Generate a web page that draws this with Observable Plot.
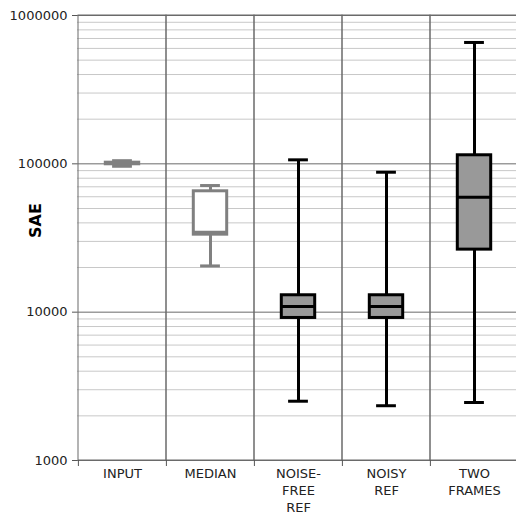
<!DOCTYPE html>
<html>
<head>
<meta charset="utf-8">
<script src="https://cdn.jsdelivr.net/npm/d3@7"></script>
<script src="https://cdn.jsdelivr.net/npm/@observablehq/plot@0.6"></script>
<style>
  html, body { margin: 0; padding: 0; background: #fff; overflow: hidden; }
  svg { display: block; }
</style>
</head>
<body>
<div id="chart"></div>
<script>
// ---- data ----
const categories = ["INPUT", "MEDIAN", "NOISE-FREE REF", "NOISY REF", "TWO FRAMES"];
const tickLabels = ["INPUT", "MEDIAN", "NOISE-\nFREE\nREF", "NOISY\nREF", "TWO\nFRAMES"];
const whiskerLow  = [96300, 20500, 2510, 2340, 2460];
const q1          = [99300, 33300, 9140, 9140, 26400];
const median      = [100500, 34600, 10900, 10900, 59600];
const q3          = [101800, 65300, 13000, 13000, 114200];
const whiskerHigh = [105000, 71400, 106400, 87800, 658000];
const yMajorTicks = [1000, 10000, 100000, 1000000];

// ---- table built from the arrays ----
const rows = categories.map((c, i) => ({
  cat: c, lo: whiskerLow[i], q1: q1[i], med: median[i], q3: q3[i], hi: whiskerHigh[i]
}));
const labelOf = new Map(categories.map((c, i) => [c, tickLabels[i]]));

// ---- styles ----
const strokeOf = c => (c === "INPUT" || c === "MEDIAN") ? "#808080" : "#000000";
const fillOf = c => c === "INPUT" ? "#808080" : c === "MEDIAN" ? "#ffffff" : "#999999";

const yDomain = [1000, 1000000];
const allTicks = d3.scaleLog().domain(yDomain).ticks();
const minorTicks = allTicks.filter(v => !yMajorTicks.includes(v));

const W = 516, H = 515;
const mL = 77, mT = 15, mB = 55;
const xRange = [mL, 518];
const bw = (xRange[1] - xRange[0]) / categories.length;
const boxInset = (bw - 33.6) / 2;
const capInset = (bw - 20) / 2;

const chart = Plot.plot({
  width: W,
  height: H,
  marginLeft: mL,
  marginTop: mT,
  marginBottom: mB,
  marginRight: 0,
  style: { fontFamily: "DejaVu Sans", background: "#fff", overflow: "visible" },
  x: { type: "band", domain: categories, range: xRange, padding: 0, axis: null, label: null },
  y: { type: "log", domain: yDomain, axis: null, label: null },
  marks: [
    // minor grid
    Plot.ruleY(minorTicks, { stroke: "#c8c8c8", strokeWidth: 1 }),
    // major grid
    Plot.ruleY(yMajorTicks, { stroke: "#6a6a6a", strokeWidth: 1 }),
    // category separators
    Plot.barY(categories, { x: d => d, y1: yDomain[0], y2: yDomain[1], fill: "none", stroke: "#6a6a6a", strokeWidth: 1 }),
    // y axis
    Plot.axisY({ ticks: yMajorTicks, tickFormat: d => String(d), tickSize: 5, tickPadding: 5, fontSize: 13, stroke: "#555", color: "#222", label: null }),
    // x boundary ticks (empty text)
    Plot.axisX({ tickSize: 6, tickFormat: () => "", dx: -bw / 2, stroke: "#555", label: null }),
    // x labels
    Plot.axisX({ tickSize: 0, tickPadding: 6, fontSize: 13, tickFormat: d => labelOf.get(d), color: "#222", lineHeight: 1.28, label: null }),
    // y label
    Plot.text(["SAE"], { frameAnchor: "left", rotate: -90, dx: -42, fontSize: 16, fontWeight: "bold", fill: "#000" }),
    // whiskers
    Plot.ruleX(rows, { x: "cat", y1: "lo", y2: "hi", stroke: d => strokeOf(d.cat), strokeWidth: 3 }),
    // boxes
    Plot.barY(rows, { x: "cat", y1: "q1", y2: "q3", fill: d => fillOf(d.cat), stroke: d => strokeOf(d.cat), strokeWidth: 3, insetLeft: boxInset, insetRight: boxInset }),
    // medians
    Plot.tickY(rows, { x: "cat", y: "med", stroke: d => strokeOf(d.cat), strokeWidth: 3, insetLeft: boxInset, insetRight: boxInset }),
    // caps
    Plot.tickY(rows, { x: "cat", y: "lo", stroke: d => strokeOf(d.cat), strokeWidth: 3, insetLeft: capInset, insetRight: capInset }),
    Plot.tickY(rows, { x: "cat", y: "hi", stroke: d => strokeOf(d.cat), strokeWidth: 3, insetLeft: capInset, insetRight: capInset })
  ]
});
document.getElementById("chart").appendChild(chart);
</script>
</body>
</html>
